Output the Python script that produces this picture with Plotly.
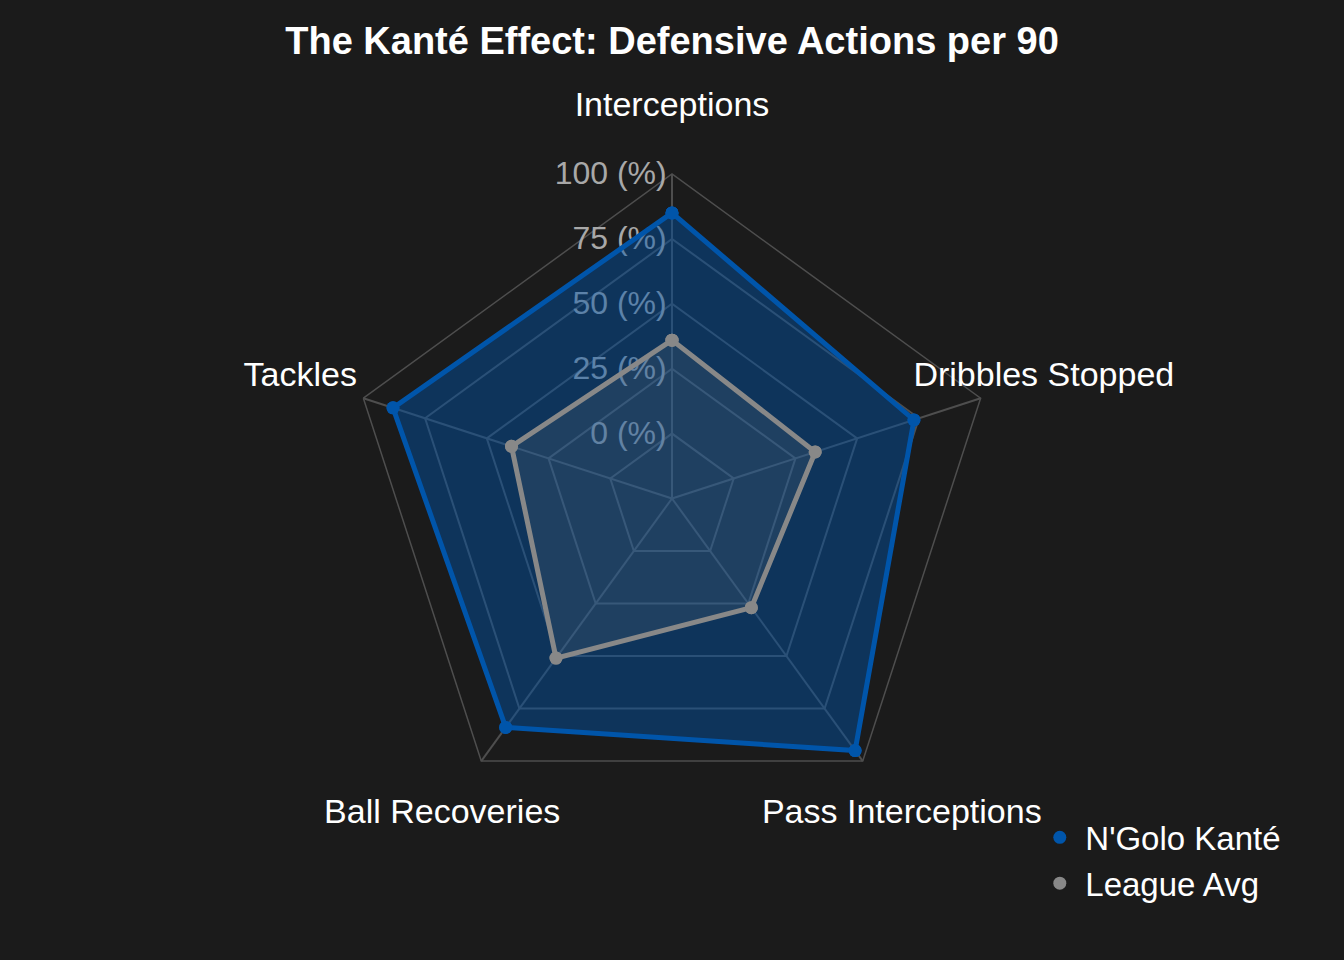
import plotly.graph_objects as go

categories = ["Interceptions", "Dribbles Stopped", "Pass Interceptions", "Ball Recoveries", "Tackles"]
kante_values = [85, 73, 95, 84, 88]
league_values = [36, 33, 27, 51, 40]
radial_ticks = [0, 25, 50, 75, 100]
radial_tick_labels = ["0 (%)", "25 (%)", "50 (%)", "75 (%)", "100 (%)"]

BG = "#1b1b1b"
KANTE_COLOR = "#0055AA"
LEAGUE_COLOR = "#888888"
GRID = "#4e4e4e"
LABEL_R = 125.6  # radial position of the category labels (outside the grid)

fig = go.Figure()
fig.add_trace(go.Scatterpolar(
    r=kante_values + kante_values[:1],
    theta=categories + categories[:1],
    name="N'Golo Kanté",
    showlegend=False,
    mode="lines+markers",
    fill="toself",
    fillcolor="rgba(0,85,170,0.45)",
    line=dict(color=KANTE_COLOR, width=5),
    marker=dict(color=KANTE_COLOR, size=13),
    subplot="polar",
))
fig.add_trace(go.Scatterpolar(
    r=league_values + league_values[:1],
    theta=categories + categories[:1],
    name="League Avg",
    showlegend=False,
    mode="lines+markers",
    fill="toself",
    fillcolor="rgba(136,136,136,0.15)",
    line=dict(color=LEAGUE_COLOR, width=5),
    marker=dict(color=LEAGUE_COLOR, size=13),
    subplot="polar",
))
# legend entries (marker only)
fig.add_trace(go.Scatterpolar(
    r=kante_values, theta=categories, name="N'Golo Kanté",
    mode="markers", marker=dict(color=KANTE_COLOR, size=13), subplot="polar",
))
fig.add_trace(go.Scatterpolar(
    r=league_values, theta=categories, name="League Avg",
    mode="markers", marker=dict(color=LEAGUE_COLOR, size=13), subplot="polar",
))
# category labels on an overlaid, invisible polar with the same centre
fig.add_trace(go.Scatterpolar(
    r=[LABEL_R] * len(categories), theta=categories, text=categories,
    mode="text", textposition="middle center",
    textfont=dict(color="white", size=34, family="Arial"),
    cliponaxis=False,
    showlegend=False, hoverinfo="skip", subplot="polar2",
))

fig.update_layout(
    width=1344,
    height=960,
    margin=dict(l=80, r=80, t=106, b=69),
    paper_bgcolor=BG,
    plot_bgcolor=BG,
    font=dict(family="Arial", color="white", size=34),
    title=dict(
        text="<b>The Kanté Effect: Defensive Actions per 90</b>",
        x=0.5, xanchor="center", y=0.958, yanchor="middle",
        font=dict(size=38, color="white", family="Arial"),
    ),
    polar=dict(
        domain=dict(x=[0, 1], y=[0.0866, 0.9134]),
        bgcolor=BG,
        gridshape="linear",
        radialaxis=dict(
            range=[-25, 100],
            tickvals=radial_ticks,
            ticktext=radial_tick_labels,
            angle=90,
            tickangle=90,
            side="counterclockwise",
            showline=False,
            ticks="",
            gridcolor=GRID,
            gridwidth=1.5,
            tickfont=dict(color="#a8a8a8", size=32, family="Arial"),
            layer="below traces",
        ),
        angularaxis=dict(
            direction="clockwise",
            rotation=90,
            gridcolor=GRID,
            gridwidth=1.5,
            linecolor=GRID,
            linewidth=1.5,
            showticklabels=False,
            ticks="",
            layer="below traces",
        ),
    ),
    polar2=dict(
        domain=dict(x=[0, 1], y=[0, 1]),
        bgcolor="rgba(0,0,0,0)",
        radialaxis=dict(range=[-25, 126.2], visible=False),
        angularaxis=dict(direction="clockwise", rotation=90, visible=False),
    ),
    legend=dict(
        x=0.806, y=0.104, xanchor="left", yanchor="top",
        font=dict(color="white", size=33),
        bgcolor="rgba(0,0,0,0)",
        tracegroupgap=0,
        itemwidth=41,
    ),
)

fig.write_html(
    "out.html",
    config={"displayModeBar": False},
    post_script="document.body.style.margin='0';document.body.style.background='%s';" % BG,
)
